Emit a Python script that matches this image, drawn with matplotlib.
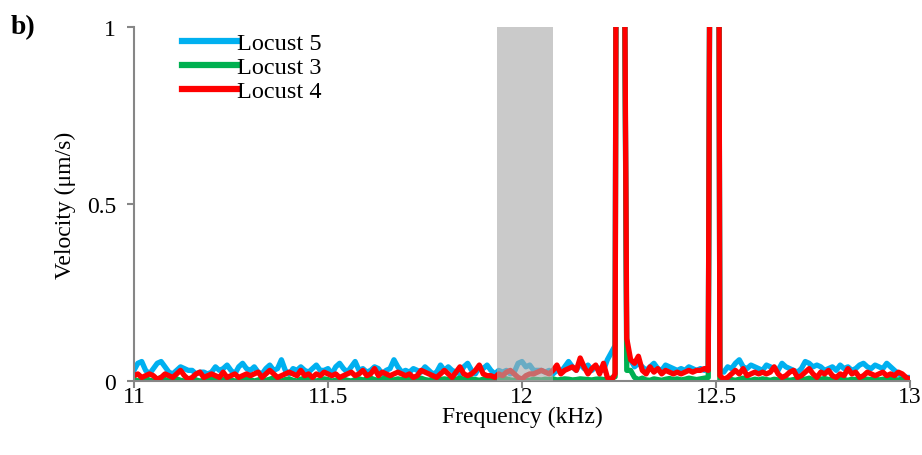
import numpy as np
import matplotlib
matplotlib.use('Agg')
import matplotlib.pyplot as plt

plt.rcParams['font.family'] = ['Liberation Serif', 'DejaVu Serif']

# Frequency grid (kHz), 0.01 kHz step
freq = np.round(np.linspace(11.0, 13.0, 201), 2)

# Velocity (um/s)
locust5 = [
    0.03, 0.05, 0.055, 0.03, 0.02, 0.035, 0.05, 0.055, 0.04, 0.025,
    0.02, 0.03, 0.04, 0.035, 0.03, 0.03, 0.02, 0.025, 0.025, 0.02,
    0.025, 0.04, 0.03, 0.035, 0.045, 0.03, 0.02, 0.04, 0.05, 0.035,
    0.03, 0.04, 0.025, 0.02, 0.035, 0.045, 0.03, 0.035, 0.06, 0.03,
    0.02, 0.035, 0.03, 0.04, 0.03, 0.025, 0.035, 0.045, 0.03, 0.03,
    0.035, 0.02, 0.04, 0.05, 0.035, 0.025, 0.04, 0.055, 0.03, 0.035,
    0.025, 0.03, 0.04, 0.035, 0.02, 0.03, 0.035, 0.06, 0.04, 0.025,
    0.03, 0.025, 0.035, 0.03, 0.025, 0.04, 0.03, 0.02, 0.025, 0.045,
    0.03, 0.04, 0.03, 0.025, 0.02, 0.04, 0.05, 0.03, 0.02, 0.04,
    0.035, 0.045, 0.03, 0.02, 0.03, 0.025, 0.03, 0.02, 0.025, 0.05,
    0.055, 0.04, 0.045, 0.03, 0.03, 0.03, 0.025, 0.03, 0.02, 0.03,
    0.025, 0.04, 0.055, 0.04, 0.03, 0.05, 0.035, 0.045, 0.03, 0.04,
    0.035, 0.03, 0.06, 0.08, 0.1, 5.0, 2.0, 0.06, 0.06, 0.04,
    0.05, 0.04, 0.03, 0.04, 0.05, 0.035, 0.03, 0.045, 0.04, 0.035,
    0.03, 0.035, 0.03, 0.04, 0.035, 0.03, 0.035, 0.03, 0.04, 3.0,
    5.0, 0.03, 0.025, 0.04, 0.035, 0.05, 0.06, 0.04, 0.035, 0.045,
    0.04, 0.035, 0.03, 0.045, 0.04, 0.035, 0.03, 0.05, 0.04, 0.035,
    0.03, 0.025, 0.035, 0.055, 0.05, 0.04, 0.045, 0.04, 0.03, 0.035,
    0.04, 0.03, 0.045, 0.035, 0.04, 0.03, 0.035, 0.045, 0.05, 0.04,
    0.035, 0.045, 0.04, 0.035, 0.05, 0.04, 0.03, 0.02, 0.015, 0.01,
    0.01]

locust3 = [
    0.005, 0.0, 0.003, 0.008, 0.002, 0.0, 0.005, 0.01, 0.004, 0.0,
    0.003, 0.006, 0.002, 0.0, 0.004, 0.008, 0.003, 0.0, 0.002, 0.005,
    0.007, 0.002, 0.0, 0.004, 0.006, 0.003, 0.0, 0.002, 0.005, 0.008,
    0.004, 0.0, 0.003, 0.006, 0.002, 0.005, 0.009, 0.003, 0.0, 0.004,
    0.006, 0.002, 0.0, 0.005, 0.008, 0.004, 0.002, 0.0, 0.003, 0.006,
    0.004, 0.0, 0.002, 0.007, 0.005, 0.002, 0.0, 0.004, 0.006, 0.003,
    0.005, 0.008, 0.004, 0.002, 0.006, 0.009, 0.005, 0.003, 0.006, 0.004,
    0.007, 0.005, 0.003, 0.006, 0.008, 0.004, 0.002, 0.005, 0.007, 0.004,
    0.006, 0.004, 0.002, 0.005, 0.008, 0.005, 0.003, 0.006, 0.004, 0.002,
    0.005, 0.007, 0.004, 0.002, 0.005, 0.008, 0.006, 0.003, 0.002, 0.004,
    0.006, 0.003, 0.002, 0.005, 0.004, 0.003, 0.005, 0.004, 0.006, 0.003,
    0.004, 0.006, 0.005, 0.003, 0.004, 0.006, 0.005, 0.004, 0.003, 0.005,
    0.006, 0.004, 0.005, 0.008, 0.012, 5.0, 2.0, 0.03, 0.03, 0.01,
    0.004, 0.008, 0.003, 0.002, 0.006, 0.004, 0.002, 0.005, 0.007, 0.004,
    0.006, 0.003, 0.005, 0.008, 0.006, 0.004, 0.006, 0.008, 0.01, 3.0,
    5.0, 0.004, 0.002, 0.006, 0.004, 0.002, 0.005, 0.008, 0.004, 0.002,
    0.005, 0.003, 0.006, 0.004, 0.002, 0.005, 0.003, 0.006, 0.004, 0.002,
    0.004, 0.006, 0.003, 0.005, 0.008, 0.004, 0.002, 0.005, 0.007, 0.004,
    0.005, 0.003, 0.006, 0.004, 0.002, 0.005, 0.004, 0.006, 0.003, 0.005,
    0.004, 0.006, 0.003, 0.005, 0.004, 0.006, 0.004, 0.003, 0.005, 0.004,
    0.003]

locust4 = [
    0.015, 0.02, 0.01, 0.015, 0.02, 0.015, 0.005, 0.01, 0.02, 0.015,
    0.01, 0.02, 0.03, 0.015, 0.005, 0.01, 0.02, 0.025, 0.01, 0.015,
    0.02, 0.015, 0.01, 0.025, 0.01, 0.015, 0.02, 0.01, 0.015, 0.02,
    0.015, 0.02, 0.025, 0.01, 0.02, 0.03, 0.02, 0.01, 0.015, 0.02,
    0.025, 0.02, 0.015, 0.03, 0.015, 0.02, 0.01, 0.02, 0.015, 0.025,
    0.02, 0.015, 0.02, 0.01, 0.015, 0.02, 0.025, 0.015, 0.02, 0.03,
    0.015, 0.02, 0.035, 0.015, 0.025, 0.02, 0.015, 0.02, 0.025, 0.02,
    0.015, 0.02, 0.01, 0.015, 0.03, 0.025, 0.02, 0.015, 0.01, 0.02,
    0.03, 0.02, 0.01, 0.025, 0.04, 0.02, 0.015, 0.02, 0.03, 0.045,
    0.02, 0.015, 0.015, 0.01, 0.02, 0.015, 0.025, 0.03, 0.02, 0.01,
    0.005, 0.015, 0.02, 0.02, 0.025, 0.03, 0.025, 0.02, 0.03, 0.045,
    0.02, 0.03, 0.035, 0.04, 0.03, 0.065, 0.04, 0.02, 0.035, 0.045,
    0.02, 0.05, 0.01, 0.0, 0.02, 5.0, 2.0, 0.12, 0.06, 0.05,
    0.07, 0.03, 0.02, 0.04, 0.025, 0.035, 0.02, 0.03, 0.025, 0.02,
    0.025, 0.02, 0.025, 0.03, 0.025, 0.03, 0.03, 0.035, 0.03, 3.0,
    5.0, 0.015, 0.005, 0.01, 0.02, 0.03, 0.02, 0.035, 0.015, 0.02,
    0.025, 0.02, 0.025, 0.02, 0.025, 0.04, 0.02, 0.01, 0.015, 0.025,
    0.03, 0.01, 0.015, 0.025, 0.035, 0.02, 0.01, 0.025, 0.02, 0.03,
    0.015, 0.01, 0.02, 0.015, 0.035, 0.02, 0.025, 0.01, 0.015, 0.025,
    0.02, 0.015, 0.02, 0.025, 0.015, 0.02, 0.015, 0.025, 0.02, 0.01,
    0.005]

# Shaded band (kHz)
band = (11.935, 12.08)

fig = plt.figure(figsize=(9.22, 4.56), dpi=100)
ax = fig.add_axes([0.1453, 0.1623, 0.8417, 0.7763])

lw = 3.8
ax.plot(freq, locust5, color='#00b0f0', lw=lw, label='Locust 5')
ax.plot(freq, locust3, color='#00b050', lw=lw, label='Locust 3')
ax.plot(freq, locust4, color='#ff0000', lw=lw, label='Locust 4')

# gray band drawn over the lines
ax.axvspan(band[0], band[1], color='#aaaaaa', alpha=0.62, lw=0, zorder=5)

ax.set_xlim(11, 13)
ax.set_ylim(0, 1)
ax.set_xticks([11, 11.5, 12, 12.5, 13])
ax.set_xticklabels(['11', '11.5', '12', '12.5', '13'])
ax.set_yticks([0, 0.5, 1])
ax.set_yticklabels(['0', '0.5', '1'])

for s in ['top', 'right']:
    ax.spines[s].set_visible(False)
for s in ['left', 'bottom']:
    ax.spines[s].set_color('#868686')
    ax.spines[s].set_linewidth(1.5)
ax.tick_params(axis='both', colors='#868686', labelcolor='black', labelsize=17,
               direction='out', length=5, width=1.5)
ax.tick_params(axis='y', pad=8)
ax.tick_params(axis='x', pad=-1.5)

ax.set_xlabel('Frequency (kHz)', fontsize=17, labelpad=-1)
ax.set_ylabel('Velocity (μm/s)', fontsize=17, labelpad=8)

leg = ax.legend(loc='upper left', bbox_to_anchor=(0.062, 0.985), frameon=False,
                fontsize=17.5, handlelength=2.25, handletextpad=0.0,
                labelspacing=0.08, borderaxespad=0.0, borderpad=0.0)
for h in leg.get_lines():
    h.set_linewidth(4.5)

fig.text(0.012, 0.925, 'b)', fontsize=20, fontweight='bold')

fig.savefig('out.png', dpi=100)
